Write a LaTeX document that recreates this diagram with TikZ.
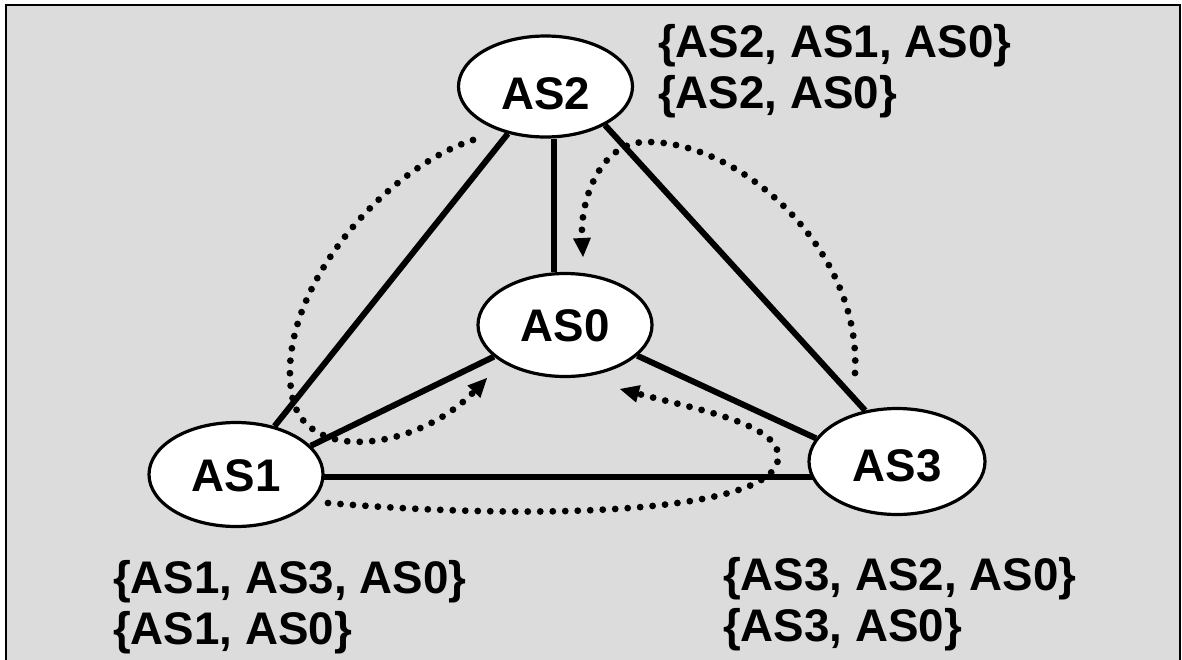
\documentclass[tikz,border=0pt]{standalone}
\usepackage{fontspec}
\setmainfont{Liberation Sans}
\usetikzlibrary{shapes.geometric,arrows.meta}
\definecolor{panel}{RGB}{220,220,220}
\pgfdeclarelayer{bg}
\pgfdeclarelayer{edges}
\pgfsetlayers{bg,edges,main}
% two stacked AS paths, baseline on the first line
\newcommand{\pathpair}[2]{\vtop{\hbox{#1}\hbox{#2}}}
\begin{document}
\begin{tikzpicture}[x=1pt,y=-1pt,
  every node/.style={font=\bfseries\fontsize{45.7}{51}\selectfont},
  asnode/.style={ellipse, draw, line width=3.2pt, fill=white, inner sep=0pt,
    minimum width=174pt, minimum height=104pt, text height=33pt, text depth=0pt},
  link/.style={line width=6pt},
  route/.style={line width=6.8pt, line cap=round, dash pattern=on 0pt off 12.5pt},
  routetip/.style={-{Triangle[length=19pt,width=18pt,line width=0pt]}},
  pathlabel/.style={anchor=base west, inner sep=0pt}]
\useasboundingbox (0,0) rectangle (1182,659);

% panel
\begin{pgfonlayer}{bg}
  \draw[line width=2pt, fill=panel] (6,5) rectangle (1180,720);
\end{pgfonlayer}

% autonomous systems
\node[asnode, minimum height=101pt, text height=46pt] (AS2) at (545.5,86.5) {AS2};
\node[asnode, minimum height=103pt] (AS0) at (565,325) {AS0};
\node[asnode] (AS1) at (236,474.5) {AS1};
\node[asnode, minimum width=176pt, minimum height=106pt, text height=40pt] (AS3) at (897,461.5) {AS3};

% physical links
\begin{pgfonlayer}{edges}
  \draw[link] ([xshift=8.5pt]AS2.south) -- ([xshift=-11pt]AS0.north);
  \draw[link] (AS2) -- (AS1);
  \draw[link] (AS2.-33) -- (AS3.122);
  \draw[link] (AS0.-156) -- (AS1.21);
  \draw[link] (AS0.-23) -- (AS3.164);
  \draw[link] (AS1 |- 0,477) -- (AS3 |- 0,477);
\end{pgfonlayer}

% route announcements
\coordinate (r1a) at (473,140);
\coordinate (r1b) at (487,378);
\coordinate (r2a) at (855,373);
\coordinate (r2b) at (583,257);
\coordinate (r3a) at (328,503);
\coordinate (r3b) at (620,389);
\draw[route, routetip] (r1a) .. controls (380,170) and (270,300) .. (293,400)
  .. controls (310,465) and (420,448) .. (r1b);
\draw[route, routetip] (r2a) .. controls (862,250) and (740,140) .. (645,142)
  .. controls (600,143) and (580,200) .. (r2b);
\draw[route, routetip] (r3a) .. controls (560,522) and (770,510) .. (778,460)
  .. controls (784,425) and (700,410) .. (r3b);

% path sets
\node[pathlabel] (P2) at (658,57) {\pathpair{\{AS2, AS1, AS0\}}{\{AS2, AS0\}}};
\node[pathlabel] (P1) at (113,593) {\pathpair{\{AS1, AS3, AS0\}}{\{AS1, AS0\}}};
\node[pathlabel] (P3) at (723,590) {\pathpair{\{AS3, AS2, AS0\}}{\{AS3, AS0\}}};
\end{tikzpicture}
\end{document}
